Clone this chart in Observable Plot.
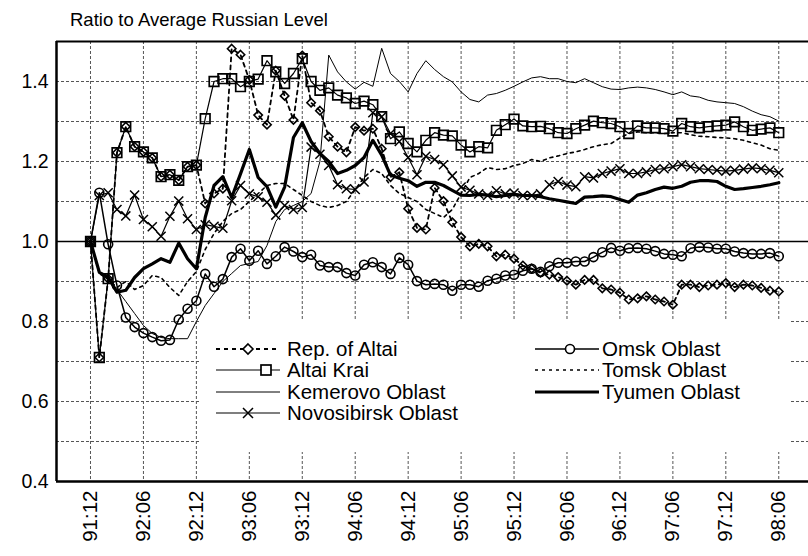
<!DOCTYPE html>
<html><head><meta charset="utf-8">
<script src="https://cdn.jsdelivr.net/npm/d3@7"></script>
<script src="https://cdn.jsdelivr.net/npm/@observablehq/plot@0.6"></script>
<style>
body{margin:0;background:#fff;font-family:"Liberation Sans",Arial,sans-serif;}
#wrap{position:relative;width:808px;height:556px;overflow:hidden;background:#fff;}
#title{position:absolute;left:70px;top:9px;font-size:18.5px;color:#000;}
#legend{position:absolute;left:200px;top:321px;width:590px;height:131px;background:#fff;}
</style></head><body>
<div id="wrap"><div id="chart"></div><div id="title">Ratio to Average Russian Level</div><div id="legend"></div></div>
<script>
const months = ["91:12",
"92:01","92:02","92:03","92:04","92:05","92:06","92:07","92:08","92:09","92:10","92:11","92:12",
"93:01","93:02","93:03","93:04","93:05","93:06","93:07","93:08","93:09","93:10","93:11","93:12",
"94:01","94:02","94:03","94:04","94:05","94:06","94:07","94:08","94:09","94:10","94:11","94:12",
"95:01","95:02","95:03","95:04","95:05","95:06","95:07","95:08","95:09","95:10","95:11","95:12",
"96:01","96:02","96:03","96:04","96:05","96:06","96:07","96:08","96:09","96:10","96:11","96:12",
"97:01","97:02","97:03","97:04","97:05","97:06","97:07","97:08","97:09","97:10","97:11","97:12",
"98:01","98:02","98:03","98:04","98:05","98:06"];
const tickLabels = ["91:12","92:06","92:12","93:06","93:12","94:06","94:12","95:06","95:12","96:06","96:12","97:06","97:12","98:06"];
const yTickValues = [0.4,0.6,0.8,1.0,1.2,1.4];
const yGridValues = [0.5,0.6,0.7,0.8,0.9,1.1,1.2,1.3,1.4];

const repAltai = [1.00,0.71,0.907,1.222,1.287,1.237,1.224,1.209,1.162,1.167,1.153,1.187,1.191,
1.095,1.12,1.132,1.482,1.467,1.404,1.316,1.292,1.427,1.364,1.304,1.465,
1.347,1.327,1.262,1.237,1.223,1.286,1.277,1.282,1.232,1.161,1.173,1.082,
1.034,1.030,1.134,1.101,1.048,1.011,0.988,0.994,0.988,0.963,0.967,0.957,
0.940,0.932,0.922,0.917,0.911,0.902,0.892,0.904,0.904,0.883,0.880,0.872,
0.855,0.858,0.863,0.855,0.850,0.842,0.892,0.892,0.886,0.890,0.892,0.896,
0.886,0.892,0.890,0.884,0.877,0.875];
const altaiKrai = [1.00,0.71,0.907,1.222,1.287,1.237,1.224,1.209,1.162,1.167,1.153,1.187,1.191,
1.307,1.400,1.407,1.407,1.387,1.400,1.406,1.452,1.424,1.395,1.420,1.457,
1.400,1.378,1.384,1.366,1.359,1.345,1.351,1.342,1.312,1.257,1.274,1.245,
1.224,1.253,1.272,1.266,1.264,1.241,1.224,1.237,1.234,1.278,1.292,1.306,
1.289,1.287,1.288,1.282,1.272,1.270,1.282,1.291,1.301,1.297,1.295,1.287,
1.270,1.289,1.284,1.284,1.282,1.276,1.295,1.287,1.284,1.287,1.289,1.291,
1.299,1.287,1.278,1.281,1.284,1.272];
const kemerovo = [1.00,0.92,0.905,0.88,0.85,0.82,0.79,0.77,0.76,0.757,0.757,0.757,0.80,
0.84,0.87,0.90,0.92,0.94,0.945,0.95,0.99,1.05,1.08,1.09,1.10,
1.12,1.20,1.466,1.424,1.399,1.381,1.398,1.388,1.483,1.420,1.400,1.374,
1.420,1.452,1.430,1.412,1.399,1.374,1.355,1.349,1.366,1.370,1.378,1.388,
1.399,1.409,1.412,1.407,1.407,1.400,1.397,1.407,1.397,1.387,1.381,1.380,
1.384,1.386,1.384,1.380,1.374,1.367,1.374,1.364,1.361,1.353,1.349,1.347,
1.345,1.337,1.326,1.317,1.312,1.301];
const novosibirsk = [1.00,1.115,1.122,1.08,1.064,1.116,1.055,1.037,1.013,1.063,1.101,1.057,1.030,
1.042,1.038,1.033,1.102,1.140,1.119,1.112,1.098,1.066,1.090,1.080,1.085,
1.236,1.218,1.190,1.142,1.132,1.130,1.149,1.322,1.312,1.270,1.250,1.210,
1.167,1.213,1.205,1.192,1.164,1.136,1.128,1.119,1.115,1.127,1.119,1.121,
1.115,1.115,1.119,1.142,1.150,1.141,1.137,1.162,1.159,1.170,1.176,1.182,
1.170,1.170,1.174,1.180,1.182,1.187,1.192,1.187,1.182,1.180,1.178,1.176,
1.178,1.181,1.184,1.182,1.178,1.172];
const omsk = [1.00,1.122,0.993,0.890,0.810,0.786,0.771,0.761,0.752,0.754,0.805,0.832,0.852,
0.919,0.887,0.906,0.961,0.982,0.952,0.977,0.944,0.963,0.986,0.975,0.961,
0.967,0.940,0.936,0.936,0.921,0.915,0.942,0.948,0.936,0.919,0.959,0.942,
0.901,0.892,0.894,0.892,0.877,0.892,0.892,0.887,0.902,0.907,0.915,0.917,
0.927,0.932,0.924,0.938,0.947,0.947,0.950,0.950,0.961,0.973,0.984,0.977,
0.983,0.984,0.982,0.976,0.969,0.967,0.963,0.983,0.986,0.985,0.982,0.982,
0.975,0.971,0.969,0.969,0.971,0.963];
const tomsk = [1.00,0.92,0.905,0.885,0.90,0.88,0.89,0.915,0.91,0.885,0.865,0.90,0.925,
0.98,1.02,1.05,1.07,1.08,1.10,1.12,1.14,1.145,1.145,1.13,1.115,
1.10,1.09,1.085,1.09,1.10,1.13,1.16,1.18,1.17,1.14,1.12,1.11,
1.10,1.08,1.07,1.06,1.08,1.12,1.16,1.17,1.185,1.18,1.182,1.19,
1.195,1.205,1.20,1.209,1.214,1.22,1.224,1.23,1.237,1.242,1.245,1.259,
1.27,1.274,1.272,1.272,1.27,1.272,1.272,1.267,1.263,1.262,1.26,1.259,
1.257,1.253,1.247,1.241,1.232,1.228];
const tyumen = [1.00,0.923,0.911,0.873,0.878,0.91,0.932,0.944,0.957,0.948,0.996,0.957,0.932,
1.06,1.14,1.162,1.11,1.169,1.23,1.16,1.137,1.086,1.136,1.26,1.297,
1.25,1.22,1.20,1.17,1.178,1.19,1.21,1.253,1.216,1.166,1.158,1.152,
1.138,1.148,1.148,1.14,1.128,1.116,1.115,1.118,1.116,1.112,1.115,1.118,
1.115,1.115,1.112,1.107,1.103,1.099,1.095,1.111,1.112,1.114,1.112,1.105,
1.098,1.116,1.122,1.13,1.136,1.133,1.138,1.148,1.152,1.152,1.15,1.138,
1.13,1.132,1.135,1.138,1.142,1.147];

const tickIdx = tickLabels.map(l => months.indexOf(l));
const toRows = vals => vals.map((v, i) => ({i, v}));
const X0 = -3.853, X1 = 81.37;
const font = "Liberation Sans, Arial, sans-serif";

const chart = Plot.plot({
  width: 808, height: 556,
  marginLeft: 56, marginRight: 0, marginTop: 41, marginBottom: 75,
  x: {domain: [X0, X1], axis: null},
  y: {domain: [0.4, 1.5], axis: null},
  style: {fontFamily: font, background: "#fff", color: "#000"},
  marks: [
    Plot.ruleY(yGridValues, {stroke: "#555", strokeWidth: 1, strokeDasharray: "3,2"}),
    Plot.ruleX(tickIdx, {stroke: "#555", strokeWidth: 1, strokeDasharray: "3,2"}),
    Plot.ruleY([1.0], {stroke: "#000", strokeWidth: 1.4}),
    Plot.line(toRows(kemerovo), {x: "i", y: "v", stroke: "#000", strokeWidth: 1}),
    Plot.line(toRows(tomsk), {x: "i", y: "v", stroke: "#000", strokeWidth: 1.6, strokeDasharray: "3,4"}),
    Plot.line(toRows(tyumen), {x: "i", y: "v", stroke: "#000", strokeWidth: 3.2}),
    Plot.line(toRows(novosibirsk), {x: "i", y: "v", stroke: "#000", strokeWidth: 1.2}),
    Plot.dot(toRows(novosibirsk), {x: "i", y: "v", symbol: "times", r: 4.2, stroke: "#000", strokeWidth: 1.5}),
    Plot.line(toRows(omsk), {x: "i", y: "v", stroke: "#000", strokeWidth: 1.5}),
    Plot.dot(toRows(omsk), {x: "i", y: "v", symbol: "circle", r: 4.5, stroke: "#000", fill: "none", strokeWidth: 1.6}),
    Plot.line(toRows(altaiKrai), {x: "i", y: "v", stroke: "#000", strokeWidth: 1.2}),
    Plot.dot(toRows(altaiKrai), {x: "i", y: "v", symbol: "square", r: 5.4, stroke: "#000", fill: "none", strokeWidth: 1.7}),
    Plot.line(toRows(repAltai), {x: "i", y: "v", stroke: "#000", strokeWidth: 1.8, strokeDasharray: "4,4"}),
    Plot.dot(toRows(repAltai), {x: "i", y: "v", symbol: "diamond2", r: 3.8, stroke: "#000", fill: "none", strokeWidth: 1.6}),
    Plot.ruleX([X0], {stroke: "#000", strokeWidth: 2.5}),
    Plot.ruleY([0.4], {stroke: "#000", strokeWidth: 2.5}),
    Plot.ruleY([1.5], {stroke: "#000", strokeWidth: 2}),
    Plot.text(yTickValues, {x: X0, y: d => d, text: d => d.toFixed(1), textAnchor: "end", dx: -8, fontSize: 19.5, fill: "#000"}),
    Plot.text(tickIdx, {x: d => d, y: 0.4, text: d => months[d], rotate: -90, textAnchor: "end", dy: 9, fontSize: 20.5, fill: "#000"})
  ]
});
document.getElementById("chart").appendChild(chart);

const legendItems = [
  {name: "Rep. of Altai", col: 0, row: 0, dash: "4,4", w: 1.8, sym: "diamond"},
  {name: "Altai Krai", col: 0, row: 1, dash: null, w: 1.2, sym: "square"},
  {name: "Kemerovo Oblast", col: 0, row: 2, dash: null, w: 1, sym: null},
  {name: "Novosibirsk Oblast", col: 0, row: 3, dash: null, w: 1.2, sym: "times"},
  {name: "Omsk Oblast", col: 1, row: 0, dash: null, w: 1.5, sym: "circle"},
  {name: "Tomsk Oblast", col: 1, row: 1, dash: "3,4", w: 1.6, sym: null},
  {name: "Tyumen Oblast", col: 1, row: 2, dash: null, w: 3.2, sym: null}
];
const lsvg = d3.select("#legend").append("svg").attr("width", 590).attr("height", 131);
const colX = [16, 335], textX = [87, 402], rowY = [28, 49, 71, 92];
for (const it of legendItems) {
  const x0 = colX[it.col], y = rowY[it.row];
  const g = lsvg.append("g");
  const ln = g.append("line").attr("x1", x0).attr("x2", x0 + 64).attr("y1", y).attr("y2", y)
    .attr("stroke", "#000").attr("stroke-width", it.w);
  if (it.dash) ln.attr("stroke-dasharray", it.dash);
  const mx = x0 + 32;
  if (it.sym === "diamond") g.append("path").attr("d", `M${mx},${y-5}L${mx+5},${y}L${mx},${y+5}L${mx-5},${y}Z`).attr("fill", "#fff").attr("stroke", "#000").attr("stroke-width", 1.6);
  if (it.sym === "square") g.append("rect").attr("x", x0 + 45).attr("y", y - 5).attr("width", 10).attr("height", 10).attr("fill", "#fff").attr("stroke", "#000").attr("stroke-width", 1.7);
  if (it.sym === "circle") g.append("circle").attr("cx", x0 + 35).attr("cy", y).attr("r", 4.5).attr("fill", "#fff").attr("stroke", "#000").attr("stroke-width", 1.6);
  if (it.sym === "times") g.append("path").attr("d", `M${mx-5},${y-5}L${mx+5},${y+5}M${mx-5},${y+5}L${mx+5},${y-5}`).attr("stroke", "#000").attr("stroke-width", 1.5);
  g.append("text").attr("x", textX[it.col]).attr("y", y).attr("dy", "0.35em").attr("font-size", 20.5)
    .attr("font-family", font).text(it.name);
}
</script>
</body></html>
